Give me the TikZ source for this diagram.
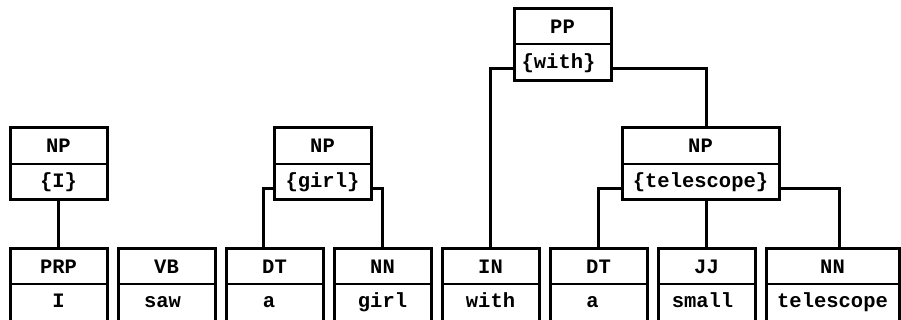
\documentclass[tikz,border=0pt]{standalone}
\usepackage{fontspec}
\setmainfont{Liberation Mono}
\begin{document}
\begin{tikzpicture}[x=1pt,y=-1pt,
  font=\fontsize{20.5}{24}\selectfont\bfseries,
  cell/.style={draw, line width=2pt, inner sep=0pt, outer sep=0pt,
               minimum width=97pt, minimum height=36pt, anchor=north},
  head/.style={cell, text height=16pt, text depth=2pt},
  word/.style={cell, text height=15pt, text depth=3pt},
  leafword/.style={cell, minimum height=37pt, text height=14pt, text depth=4pt},
  wire/.style={line width=3pt},
  frame/.style={line width=3pt}]
\useasboundingbox (0,0) rectangle (901,320);
\clip (0,0) rectangle (901,320);

% phrase boxes
\node[head] (npi) at (58.5,128) {NP};
\node[word] (npiw) at (npi.south) {\{I\}};
\node[head] (npg) at (322.5,128) {NP};
\node[word] (npgw) at (npg.south) {\{girl\}};
\node[head] (pp) at (562.5,8.5) {PP};
\node[word] (ppw) at (pp.south) {\{with\}\kern8pt};
\node[head, minimum width=157pt] (npt) at (700.5,128) {NP};
\node[word, minimum width=157pt] (nptw) at (npt.south) {\{telescope\}};

% token boxes
\node[head] (prp) at (58.5,248) {PRP};
\node[leafword] (prpw) at (prp.south) {I};
\node[head] (vb) at (166.5,248) {VB};
\node[leafword] (vbw) at (vb.south) {saw\kern8pt};
\node[head] (dta) at (274.5,248) {DT};
\node[leafword] (dtaw) at (dta.south) {a\kern11pt};
\node[head] (nna) at (382.5,248) {NN};
\node[leafword] (nnaw) at (nna.south) {girl};
\node[head] (in) at (490.5,248) {IN};
\node[leafword] (inw) at (in.south) {with};
\node[head] (dtb) at (598.5,248) {DT};
\node[leafword] (dtbw) at (dtb.south) {a\kern12pt};
\node[head] (jj) at (706.5,248) {JJ};
\node[leafword] (jjw) at (jj.south) {small\kern8pt};
\node[head, minimum width=133pt] (nnb) at (832.5,248) {NN};
\node[leafword, minimum width=133pt] (nnbw) at (nnb.south) {telescope};

% tree connectors
\draw[wire] (npiw.south) -- (prp.north);
\draw[wire] ([yshift=-7pt]npgw.west) -| ([xshift=-11.5pt]dta.north);
\draw[wire] ([yshift=-7pt]npgw.east) -| (nna.north);
\draw[wire] ([yshift=-6.5pt]ppw.west) -| (in.north);
\draw[wire] ([yshift=-6.5pt]ppw.east) -| (npt.north -| jj.north);
\draw[wire] ([yshift=-7pt]nptw.west) -| (dtb.north);
\draw[wire] (nptw.south -| jj.north) -- (jj.north);
\draw[wire] ([yshift=-7pt]nptw.east) -| ([xshift=6.5pt]nnb.north);

% heavy outlines around each two-row box
\foreach \a/\b in {npi/npiw, npg/npgw, pp/ppw, npt/nptw, prp/prpw, vb/vbw,
                   dta/dtaw, nna/nnaw, in/inw, dtb/dtbw, jj/jjw, nnb/nnbw}
  \draw[frame] (\a.north west) rectangle (\b.south east);
\end{tikzpicture}
\end{document}
